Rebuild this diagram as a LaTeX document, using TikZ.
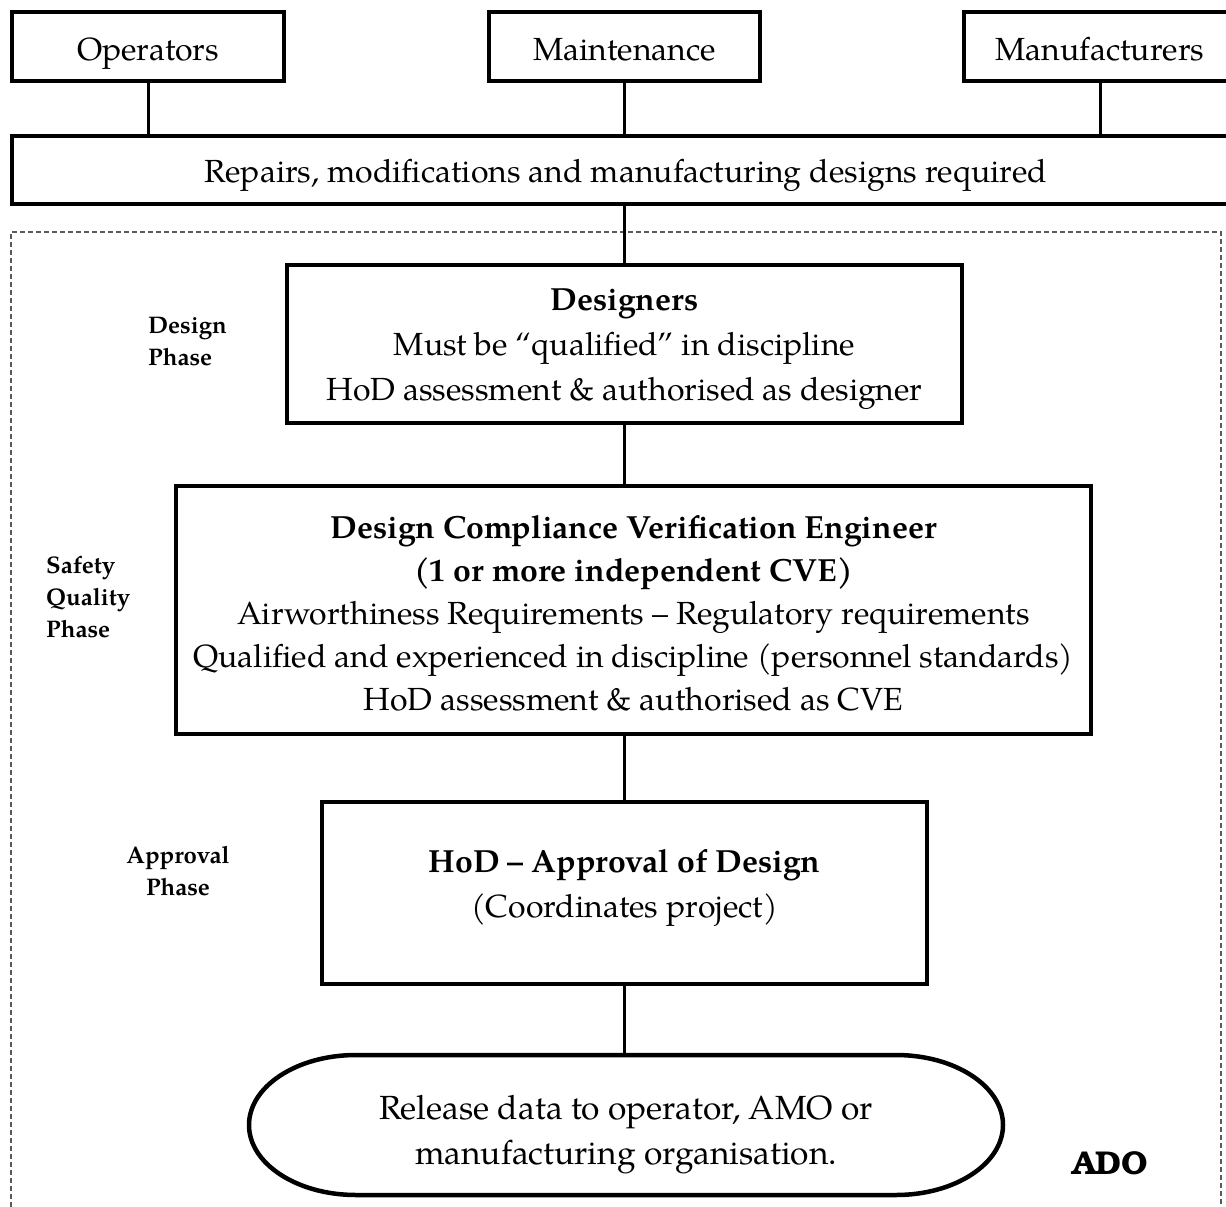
\documentclass[tikz,border=0pt]{standalone}
\usepackage{fontspec}
\setmainfont{TeX Gyre Pagella}
\newfontfamily\adofont{TeX Gyre Bonum}
\usetikzlibrary{calc}
\begin{document}
\begin{tikzpicture}[x=1pt,y=-1pt,
 box/.style={draw, line width=4.5pt, inner sep=0pt, outer sep=0pt, align=center, font=\fontsize{32}{44}\selectfont},
 txt/.style={inner sep=0pt, outer sep=0pt, align=center, font=\fontsize{32}{45}\selectfont},
 link/.style={line width=3pt},
 phase/.style={inner sep=0pt, font=\fontsize{24}{32}\selectfont\bfseries},
 frame/.style={draw=black!65, line width=1.3pt, dash pattern=on 5pt off 3pt},
]
\clip (0,0) rectangle (1226,1207);
\fill[white] (0,0) rectangle (1226,1207);
% dashed ADO frame
\draw[frame] (11,1215) -- (11,232) -- (1221,232) -- (1221,1215);
% top row
\node[box, minimum width=272pt, minimum height=69pt, text height=29pt, text depth=0pt] (op) at (148,46.5) {Operators};
\node[box, minimum width=271pt, minimum height=69pt, text height=29pt, text depth=0pt] (mt) at (624.5,46.5) {Maintenance};
\node[box, minimum width=272pt, minimum height=69pt, text height=29pt, text depth=0pt] (mf) at (1100,46.5) {Manufacturers};
\node[box, minimum width=1228pt, minimum height=68pt, text height=24pt, text depth=0pt] (rep) at (626,170) {Repairs, modifications and manufacturing designs required};
\draw[link] (op.south) -- (op.south |- rep.north);
\draw[link] (mt.south) -- (mt.south |- rep.north);
\draw[link] (mf.south) -- (mf.south |- rep.north);
% main chain
\node[box, minimum width=675pt, minimum height=158pt] (des) at (624.5,344) {};
\node[txt] (dest) at (624.5,349)
 {\textbf{Designers}\\Must be “qualified” in discipline\\HoD assessment \& authorised as designer};
\node[box, minimum width=915pt, minimum height=248pt] (cve) at (633.5,610) {};
\node[txt, font=\fontsize{32}{43}\selectfont] (cvet) at (633.5,613)
 {\textbf{Design Compliance Verification Engineer}\\\textbf{(1 or more independent CVE)}\\Airworthiness Requirements – Regulatory requirements\\Qualified and experienced in discipline (personnel standards)\\HoD assessment \& authorised as CVE};
\node[box, minimum width=605pt, minimum height=182pt] (hod) at (624.5,893) {};
\node[txt] (hodt) at (624.5,888) {\textbf{HoD – Approval of Design}\\(Coordinates project)};
\node[txt, minimum width=754pt, minimum height=140pt] (rel) at (626,1125) {};
\node[txt, font=\fontsize{33.5}{45}\selectfont] (relt) at (626,1135) {Release data to operator, AMO or\\manufacturing organisation.};
\draw[line width=4.5pt] ($(rel.north west)+(107,0)$) -- ($(rel.north east)+(-107,0)$)
  arc[start angle=90,end angle=-90,x radius=107pt,y radius=70pt]
  -- ($(rel.south west)+(107,0)$)
  arc[start angle=270,end angle=90,x radius=107pt,y radius=70pt] -- cycle;
\draw[link] (rep.south -| des.north) -- (des.north);
\draw[link] (des.south) -- (des.south |- cve.north);
\draw[link] (hod.north |- cve.south) -- (hod.north);
\draw[link] (hod.south) -- (hod.south |- rel.north);
% phase labels
\node[phase, anchor=west, align=left] (pd) at (148,342) {Design\\Phase};
\node[phase, anchor=west, align=left] (pq) at (46,597) {Safety\\Quality\\Phase};
\node[phase, align=center] (pa) at (178,871) {Approval\\Phase};
\node[inner sep=0pt, font=\adofont\fontsize{33}{36}\selectfont\bfseries] (ado) at (1110,1163) {ADO};
\end{tikzpicture}
\end{document}
